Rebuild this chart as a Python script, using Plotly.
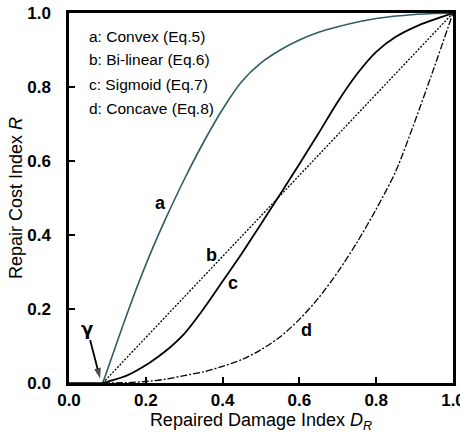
import plotly.graph_objects as go

# Threshold damage index below which no repair cost is incurred
gamma = 0.088

# a: convex repair cost curve
a_x = [0.088, 0.13, 0.17, 0.21, 0.25, 0.30, 0.35, 0.40, 0.45, 0.50, 0.55, 0.60, 0.65, 0.70, 0.80, 0.90, 1.0]
a_r = [0.0, 0.125, 0.24, 0.345, 0.44, 0.55, 0.65, 0.74, 0.815, 0.865, 0.90, 0.927, 0.948, 0.963, 0.985, 0.996, 1.0]

# b: bi-linear repair cost curve
b_x = [0.088, 1.0]
b_r = [0.0, 1.0]

# c: sigmoid repair cost curve
c_x = [0.088, 0.15, 0.21, 0.25, 0.30, 0.35, 0.40, 0.45, 0.50, 0.55, 0.60, 0.65, 0.70, 0.75, 0.80, 0.85, 0.90, 0.95, 1.0]
c_r = [0.0, 0.02, 0.055, 0.085, 0.133, 0.20, 0.275, 0.35, 0.43, 0.51, 0.592, 0.675, 0.76, 0.835, 0.895, 0.935, 0.962, 0.982, 1.0]

# d: concave repair cost curve
d_x = [0.088, 0.15, 0.20, 0.25, 0.30, 0.35, 0.40, 0.45, 0.50, 0.55, 0.60, 0.65, 0.70, 0.75, 0.80, 0.85, 0.90, 0.95, 1.0]
d_r = [0.0, 0.001, 0.004, 0.01, 0.02, 0.03, 0.045, 0.063, 0.09, 0.125, 0.172, 0.23, 0.30, 0.38, 0.47, 0.57, 0.705, 0.85, 1.0]

# zero-cost segment below the threshold
zero_x = [0.0, gamma]
zero_r = [0.0, 0.0]

# arrow pointing at the threshold on the horizontal axis
arrow_x = [0.055, 0.081]
arrow_r = [0.116, 0.012]

tick_vals = [0.0, 0.2, 0.4, 0.6, 0.8, 1.0]
tick_text = ["0.0", "0.2", "0.4", "0.6", "0.8", "1.0"]

legend_lines = ["a: Convex (Eq.5)", "b: Bi-linear (Eq.6)", "c: Sigmoid (Eq.7)", "d: Concave (Eq.8)"]
legend_y = [0.936, 0.873, 0.807, 0.743]

curve_labels = ["a", "b", "c", "d"]
label_x = [0.237, 0.372, 0.428, 0.619]
label_y = [0.486, 0.346, 0.269, 0.143]

FONT = "Liberation Sans, Arial, sans-serif"
TEAL = "#2f5d60"

fig = go.Figure()
fig.add_trace(go.Scatter(x=zero_x, y=zero_r, mode="lines",
                         line=dict(color="black", width=1.5), showlegend=False))
fig.add_trace(go.Scatter(x=a_x, y=a_r, mode="lines", line_shape="spline",
                         line=dict(color=TEAL, width=1.6, smoothing=0.8), showlegend=False))
fig.add_trace(go.Scatter(x=b_x, y=b_r, mode="lines",
                         line=dict(color="black", width=1.3, dash="2px,1.5px"), showlegend=False))
fig.add_trace(go.Scatter(x=c_x, y=c_r, mode="lines", line_shape="spline",
                         line=dict(color="black", width=1.8, smoothing=0.8), showlegend=False))
fig.add_trace(go.Scatter(x=d_x, y=d_r, mode="lines", line_shape="spline",
                         line=dict(color="black", width=1.3, dash="7px,2px,2px,2px", smoothing=0.8),
                         showlegend=False))
fig.add_trace(go.Scatter(x=arrow_x, y=arrow_r, mode="lines+markers",
                         line=dict(color="black", width=1.8),
                         marker=dict(symbol=["circle", "arrow"], size=[0, 11],
                                     angleref="previous", color="black",
                                     line=dict(width=0)),
                         showlegend=False))

annotations = []
for txt, yy in zip(legend_lines, legend_y):
    annotations.append(dict(x=0.046, y=yy, xref="x", yref="y", text=txt, showarrow=False,
                            xanchor="left", yanchor="middle",
                            font=dict(family=FONT, size=15.5, color="black")))
for txt, xx, yy in zip(curve_labels, label_x, label_y):
    annotations.append(dict(x=xx, y=yy, xref="x", yref="y", text=txt, showarrow=False,
                            xanchor="center", yanchor="middle",
                            font=dict(family=FONT, size=18, color="black", weight="bold")))
# threshold symbol
annotations.append(dict(x=0.048, y=0.148, xref="x", yref="y", text="γ", showarrow=False,
                        xanchor="center", yanchor="middle",
                        font=dict(family="DejaVu Sans, sans-serif", size=18, color="black",
                                  weight="bold")))

axis_common = dict(
    range=[0, 1], showgrid=False, zeroline=False, automargin=False,
    showline=True, linecolor="black", linewidth=2.5, mirror=True,
    ticks="inside", ticklen=6, tickwidth=2, tickcolor="black",
    tickvals=tick_vals, ticktext=tick_text, ticklabeloverflow="allow",
    tickfont=dict(family=FONT, size=17, color="black", weight="bold"),
)

fig.update_layout(
    width=460, height=434,
    margin=dict(l=69, r=7, t=13, b=51),
    paper_bgcolor="white", plot_bgcolor="white",
    xaxis=dict(**axis_common,
               title=dict(text="Repaired Damage Index <i>D</i><sub><i>R</i></sub>",
                          font=dict(family=FONT, size=18, color="black"), standoff=0)),
    yaxis=dict(**axis_common, ticklabelstandoff=12,
               title=dict(text="Repair Cost Index <i>R</i>",
                          font=dict(family=FONT, size=18, color="black"), standoff=0)),
    annotations=annotations,
)

fig.write_html("out.html")
